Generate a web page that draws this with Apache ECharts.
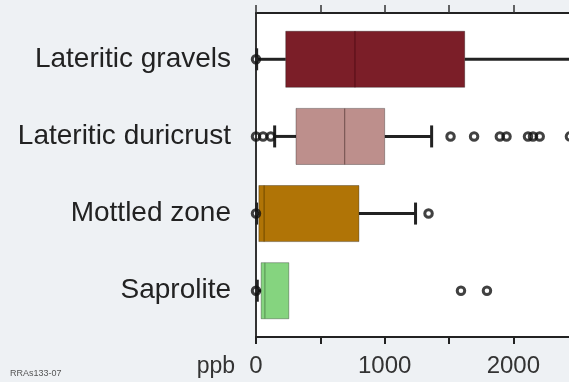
<!DOCTYPE html>
<html>
<head>
<meta charset="utf-8">
<script src="https://cdn.jsdelivr.net/npm/echarts@6/dist/echarts.min.js"></script>
<style>
html,body{margin:0;padding:0;background:#eef1f4;}
#chart{width:569px;height:382px;}
</style>
</head>
<body>
<div id="chart"></div>
<script>
// ---- data ----
const categories = ['Lateritic gravels', 'Lateritic duricrust', 'Mottled zone', 'Saprolite'];
const lowWhisker = [5, 145, 5, 10];
const q1 = [231, 311, 22, 40];
const median = [769, 689, 63, 69];
const q3 = [1622, 1000, 800, 255];
const highWhisker = [2900, 1365, 1240, 255];
const outliers = [
  [0],
  [0, 55, 115, 1512, 1695, 1895, 1947, 2114, 2153, 2205, 2440],
  [0, 1341],
  [0, 1593, 1795]
];
const xTicks = [0, 500, 1000, 1500, 2000, 2500, 3000];

// ---- styles ----
const fillColors = ['#7b1e28', '#bd8f8c', '#b07406', '#85d47f'];
const medianColors = ['#5a1019', '#7b5856', '#7a5000', '#5d9a58'];

const boxData = categories.map((c, i) => [i + 1, lowWhisker[i], q1[i], median[i], q3[i], highWhisker[i]]);
const outlierData = [];
outliers.forEach((arr, i) => arr.forEach(v => outlierData.push([v, i + 1])));

function renderBox(params, api) {
  const pos = api.value(0);
  const pLow = api.coord([api.value(1), pos]);
  const pQ1 = api.coord([api.value(2), pos]);
  const pMed = api.coord([api.value(3), pos]);
  const pQ3 = api.coord([api.value(4), pos]);
  const pHigh = api.coord([api.value(5), pos]);
  const h = api.size([0, 0.727])[1];
  const half = h / 2;
  const capHalf = 11;
  const y = pQ1[1];
  const idx = params.dataIndex;
  const wStyle = { stroke: '#222', lineWidth: 3 };
  const children = [];
  if (pQ1[0] - pLow[0] > 0.5) {
    children.push({ type: 'line', shape: { x1: pLow[0], y1: y, x2: pQ1[0], y2: y }, style: wStyle });
    children.push({ type: 'line', shape: { x1: pLow[0], y1: y - capHalf, x2: pLow[0], y2: y + capHalf }, style: wStyle });
  }
  if (pHigh[0] - pQ3[0] > 0.5) {
    children.push({ type: 'line', shape: { x1: pQ3[0], y1: y, x2: pHigh[0], y2: y }, style: wStyle });
    children.push({ type: 'line', shape: { x1: pHigh[0], y1: y - capHalf, x2: pHigh[0], y2: y + capHalf }, style: wStyle });
  }
  children.push({
    type: 'rect',
    shape: { x: pQ1[0], y: y - half, width: pQ3[0] - pQ1[0], height: h },
    style: { fill: fillColors[idx], stroke: 'rgba(0,0,0,0.3)', lineWidth: 1 }
  });
  children.push({
    type: 'line',
    shape: { x1: pMed[0], y1: y - half, x2: pMed[0], y2: y + half },
    style: { stroke: medianColors[idx], lineWidth: 1.2 }
  });
  return { type: 'group', children: children };
}

const chart = echarts.init(document.getElementById('chart'), null, { renderer: 'canvas' });
chart.setOption({
  backgroundColor: '#eef1f4',
  animation: false,
  textStyle: { fontFamily: 'Liberation Sans, Arial, sans-serif' },
  title: {
    text: 'RRAs133-07',
    left: 10, top: 369, padding: 0,
    textStyle: { fontSize: 9, fontWeight: 'normal', color: '#555' }
  },
  grid: {
    left: 256, top: 13, width: 386, height: 324,
    outerBoundsMode: 'none', containLabel: false,
    show: true, backgroundColor: '#ffffff', borderWidth: 0
  },
  xAxis: [{
    type: 'value', position: 'bottom', min: 0, max: 3000, interval: 500,
    name: 'ppb', nameLocation: 'start', nameGap: 21,
    nameTextStyle: { fontSize: 23, color: '#333', align: 'right', verticalAlign: 'top', padding: [18, 0, 0, 0] },
    axisLine: { show: true, lineStyle: { color: '#222', width: 2 } },
    axisTick: { show: true, length: 7, lineStyle: { color: '#222', width: 2 } },
    axisLabel: {
      fontSize: 24, color: '#333', margin: 17,
      formatter: v => (v % 1000 === 0 ? String(v) : '')
    },
    splitLine: { show: false }
  }, {
    type: 'value', position: 'top', min: 0, max: 3000, interval: 500,
    axisLine: { show: true, onZero: false, lineStyle: { color: '#222', width: 2 } },
    axisTick: { show: true, length: 8, lineStyle: { color: '#333', width: 1.5 } },
    axisLabel: { show: false },
    splitLine: { show: false }
  }],
  yAxis: {
    type: 'value', min: 0.4, max: 4.6, inverse: true,
    axisLine: { show: true, onZero: false, lineStyle: { color: '#333', width: 2 } },
    axisTick: { show: false },
    splitLine: { show: false },
    axisLabel: {
      customValues: [1, 2, 3, 4],
      fontSize: 28, color: '#222', margin: 25,
      formatter: v => categories[Math.round(v) - 1] || ''
    }
  },
  series: [{
    type: 'custom',
    renderItem: renderBox,
    encode: { x: [1, 2, 3, 4, 5], y: 0 },
    data: boxData,
    z: 2
  }, {
    type: 'scatter',
    data: outlierData,
    symbol: 'circle',
    symbolSize: 7.5,
    clip: false,
    itemStyle: { color: 'rgba(0,0,0,0)', borderColor: '#111', borderWidth: 3 },
    z: 3
  }]
});
</script>
</body>
</html>
